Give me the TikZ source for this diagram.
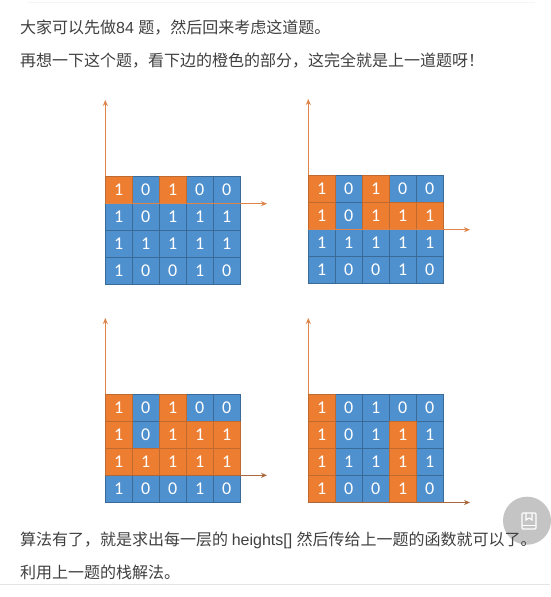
\documentclass[tikz,border=0pt]{standalone}
\usepackage{fontspec}
\setmainfont{Liberation Sans}
\newfontfamily\cjk{Noto Sans CJK SC}
\newfontfamily\celf{Carlito}
\usetikzlibrary{arrows.meta}
\definecolor{cellblue}{HTML}{4F90CF}
\definecolor{cellline}{HTML}{3A6A98}
\definecolor{cellorange}{HTML}{ED7D31}
\definecolor{orangeline}{HTML}{BF6A2E}
\definecolor{axisorange}{HTML}{DE8448}
\definecolor{axisbrown}{HTML}{A8673C}
\definecolor{bodytext}{HTML}{404040}
\tikzset{
  x=1pt,y=-1pt,
  para/.style={anchor=base west,inner sep=0pt,text=bodytext,font=\fontsize{16}{16}\selectfont},
  cellbox/.style={line width=0.7pt,minimum width=27pt,minimum height=27pt,inner sep=0pt,text=white,font=\fontsize{18}{18}\selectfont\celf},
  bluecell/.style={cellbox,draw=cellline,fill=cellblue},
  orangecell/.style={cellbox,draw=orangeline,fill=cellorange},
  axisline/.style={line width=1pt,-{Stealth[length=6pt,width=5pt]}}
}
% #1 prefix, #2 left, #3 top, #4 top of y axis, #5 y of x axis, #6 x-axis end, #7 orange flags, #8 x-axis colour
\newcommand{\gridpanel}[8]{
  \foreach \v [count=\i from 0] in {1,0,1,0,0,1,0,1,1,1,1,1,1,1,1,1,0,0,1,0} {
    \pgfmathtruncatemacro{\fl}{{#7}[\i]}
    \ifnum\fl=0
      \pgfmathtruncatemacro{\cc}{mod(\i,5)}
      \pgfmathtruncatemacro{\rr}{int(\i/5)}
      \node[bluecell] (#1c\rr\cc) at ({#2+13.5+27*\cc},{#3+13.5+27*\rr}) {\v};
    \fi
  }
  \foreach \v [count=\i from 0] in {1,0,1,0,0,1,0,1,1,1,1,1,1,1,1,1,0,0,1,0} {
    \pgfmathtruncatemacro{\fl}{{#7}[\i]}
    \ifnum\fl=1
      \pgfmathtruncatemacro{\cc}{mod(\i,5)}
      \pgfmathtruncatemacro{\rr}{int(\i/5)}
      \node[orangecell] (#1c\rr\cc) at ({#2+13.5+27*\cc},{#3+13.5+27*\rr}) {\v};
    \fi
  }
  \coordinate (#1o) at (#2,#5);
  \coordinate (#1top) at (#2,#4);
  \coordinate (#1corner) at (#2,#3);
  \coordinate (#1end) at (#6,#5);
  \draw[axisline,axisorange] (#1corner) -- (#1top);
  \draw[axisline,#8] (#1o) -- (#1end);
}
\begin{document}
\begin{tikzpicture}
\useasboundingbox (0,0) rectangle (550,597);
\fill[white] (0,0) rectangle (550,597);
\draw[black!4,line width=0.6pt] (28,2.5) -- (535,2.5);
\draw[black!10,line width=0.6pt] (0,584) -- (550,584);
\node[para] (l1) at (20,33) {\cjk 大家可以先做\rmfamily 84 \cjk 题，然后回来考虑这道题。};
\node[para] (l2) at (20,66) {\cjk 再想一下这个题，看下边的橙色的部分，这完全就是上一道题呀！};
\gridpanel{a}{105.3}{176}{100}{203.7}{267}{1,0,1,0,0,0,0,0,0,0,0,0,0,0,0,0,0,0,0,0}{axisorange}
\gridpanel{b}{308.3}{175.3}{99}{229.7}{470}{1,0,1,0,0,1,0,1,1,1,0,0,0,0,0,0,0,0,0,0}{axisorange}
\gridpanel{c}{105.3}{394}{318}{475.3}{267}{1,0,1,0,0,1,0,1,1,1,1,1,1,1,1,0,0,0,0,0}{axisbrown}
\gridpanel{d}{308.3}{394}{318}{502.5}{470}{1,0,0,0,0,1,0,0,1,0,1,0,0,1,0,1,0,0,1,0}{axisbrown}
\fill[black!23] (527,520.7) circle (24);
\draw[white,line width=1.3pt,rounded corners=1pt] (522,513) rectangle (536,529);
\draw[white,line width=1.3pt] (522,525.5) -- (536,525.5);
\draw[white,line width=1.1pt] (526,513) -- (526,520) -- (529,518) -- (532,520) -- (532,513);
\node[para] (l3) at (20,545) {\cjk 算法有了，就是求出每一层的 \rmfamily heights[] \cjk 然后传给上一题的函数就可以了。};
\node[para] (l4) at (20,578) {\cjk 利用上一题的栈解法。};
\end{tikzpicture}
\end{document}
